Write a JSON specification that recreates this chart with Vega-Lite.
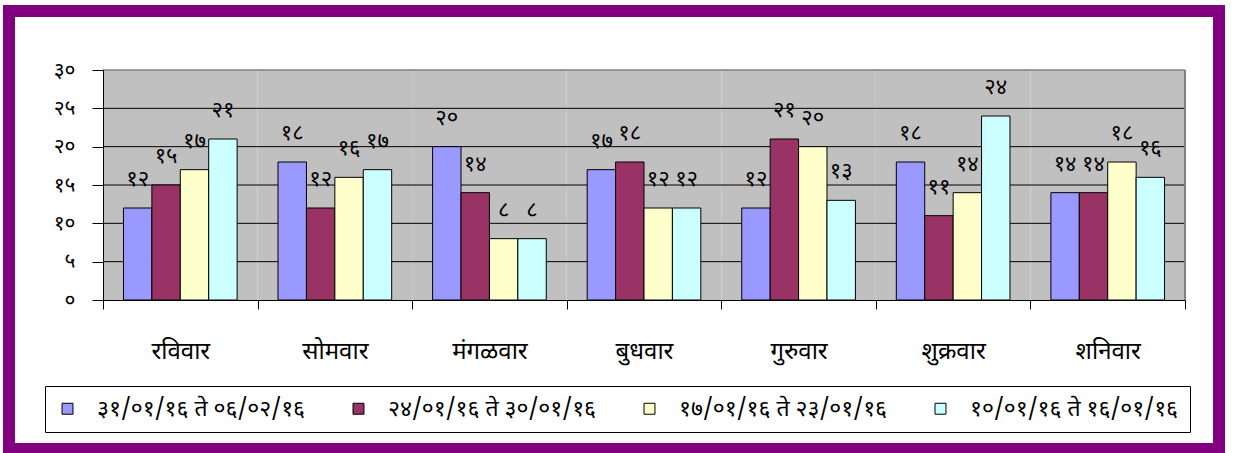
{
  "$schema": "https://vega.github.io/schema/vega-lite/v6.json",
  "width": 1210,
  "height": 438,
  "autosize": "none",
  "padding": {"left": 9, "top": 11, "right": 14, "bottom": 4},
  "background": "white",
  "config": {
    "font": "Noto Sans Devanagari",
    "view": {"fill": "white", "stroke": "#800080", "strokeWidth": 12}
  },
  "data": {
    "values": [
      {"day": "रविवार", "week": "३१/०१/१६ ते ०६/०२/१६", "value": 12, "label": "१२"},
      {"day": "रविवार", "week": "२४/०१/१६ ते ३०/०१/१६", "value": 15, "label": "१५"},
      {"day": "रविवार", "week": "१७/०१/१६ ते २३/०१/१६", "value": 17, "label": "१७"},
      {"day": "रविवार", "week": "१०/०१/१६ ते १६/०१/१६", "value": 21, "label": "२१"},
      {"day": "सोमवार", "week": "३१/०१/१६ ते ०६/०२/१६", "value": 18, "label": "१८"},
      {"day": "सोमवार", "week": "२४/०१/१६ ते ३०/०१/१६", "value": 12, "label": "१२"},
      {"day": "सोमवार", "week": "१७/०१/१६ ते २३/०१/१६", "value": 16, "label": "१६"},
      {"day": "सोमवार", "week": "१०/०१/१६ ते १६/०१/१६", "value": 17, "label": "१७"},
      {"day": "मंगळवार", "week": "३१/०१/१६ ते ०६/०२/१६", "value": 20, "label": "२०"},
      {"day": "मंगळवार", "week": "२४/०१/१६ ते ३०/०१/१६", "value": 14, "label": "१४"},
      {"day": "मंगळवार", "week": "१७/०१/१६ ते २३/०१/१६", "value": 8, "label": "८"},
      {"day": "मंगळवार", "week": "१०/०१/१६ ते १६/०१/१६", "value": 8, "label": "८"},
      {"day": "बुधवार", "week": "३१/०१/१६ ते ०६/०२/१६", "value": 17, "label": "१७"},
      {"day": "बुधवार", "week": "२४/०१/१६ ते ३०/०१/१६", "value": 18, "label": "१८"},
      {"day": "बुधवार", "week": "१७/०१/१६ ते २३/०१/१६", "value": 12, "label": "१२"},
      {"day": "बुधवार", "week": "१०/०१/१६ ते १६/०१/१६", "value": 12, "label": "१२"},
      {"day": "गुरुवार", "week": "३१/०१/१६ ते ०६/०२/१६", "value": 12, "label": "१२"},
      {"day": "गुरुवार", "week": "२४/०१/१६ ते ३०/०१/१६", "value": 21, "label": "२१"},
      {"day": "गुरुवार", "week": "१७/०१/१६ ते २३/०१/१६", "value": 20, "label": "२०"},
      {"day": "गुरुवार", "week": "१०/०१/१६ ते १६/०१/१६", "value": 13, "label": "१३"},
      {"day": "शुक्रवार", "week": "३१/०१/१६ ते ०६/०२/१६", "value": 18, "label": "१८"},
      {"day": "शुक्रवार", "week": "२४/०१/१६ ते ३०/०१/१६", "value": 11, "label": "११"},
      {"day": "शुक्रवार", "week": "१७/०१/१६ ते २३/०१/१६", "value": 14, "label": "१४"},
      {"day": "शुक्रवार", "week": "१०/०१/१६ ते १६/०१/१६", "value": 24, "label": "२४"},
      {"day": "शनिवार", "week": "३१/०१/१६ ते ०६/०२/१६", "value": 14, "label": "१४"},
      {"day": "शनिवार", "week": "२४/०१/१६ ते ३०/०१/१६", "value": 14, "label": "१४"},
      {"day": "शनिवार", "week": "१७/०१/१६ ते २३/०१/१६", "value": 18, "label": "१८"},
      {"day": "शनिवार", "week": "१०/०१/१६ ते १६/०१/१६", "value": 16, "label": "१६"}
    ]
  },
  "layer": [
    {
      "transform": [{"filter": {"field": "week", "equal": "३१/०१/१६ ते ०६/०२/१६"}}],
      "mark": {"type": "rect", "fill": "#C0C0C0", "stroke": null},
      "encoding": {
        "x": {"field": "day", "type": "nominal", "sort": null, "title": null,
              "scale": {"range": [94, 1176], "paddingInner": 0, "paddingOuter": 0}},
        "y": {"datum": 0, "type": "quantitative", "title": null,
              "scale": {"domain": [0, 30], "range": [289, 59], "nice": false}},
        "y2": {"datum": 30}
      }
    },
    {
      "data": {"values": [{}]},
      "layer": [
        {"mark": {"type": "rule", "color": "black", "strokeWidth": 1},
         "encoding": {"x": {"datum": "रविवार", "type": "nominal", "bandPosition": 0, "title": null},
                      "x2": {"datum": "शनिवार", "bandPosition": 1},
                      "y": {"datum": 5, "type": "quantitative", "title": null}}},
        {"mark": {"type": "rule", "color": "black", "strokeWidth": 1},
         "encoding": {"x": {"datum": "रविवार", "type": "nominal", "bandPosition": 0, "title": null},
                      "x2": {"datum": "शनिवार", "bandPosition": 1},
                      "y": {"datum": 10, "type": "quantitative", "title": null}}},
        {"mark": {"type": "rule", "color": "black", "strokeWidth": 1},
         "encoding": {"x": {"datum": "रविवार", "type": "nominal", "bandPosition": 0, "title": null},
                      "x2": {"datum": "शनिवार", "bandPosition": 1},
                      "y": {"datum": 15, "type": "quantitative", "title": null}}},
        {"mark": {"type": "rule", "color": "black", "strokeWidth": 1},
         "encoding": {"x": {"datum": "रविवार", "type": "nominal", "bandPosition": 0, "title": null},
                      "x2": {"datum": "शनिवार", "bandPosition": 1},
                      "y": {"datum": 20, "type": "quantitative", "title": null}}},
        {"mark": {"type": "rule", "color": "black", "strokeWidth": 1},
         "encoding": {"x": {"datum": "रविवार", "type": "nominal", "bandPosition": 0, "title": null},
                      "x2": {"datum": "शनिवार", "bandPosition": 1},
                      "y": {"datum": 25, "type": "quantitative", "title": null}}},
        {"mark": {"type": "rule", "color": "#808080", "strokeWidth": 1.5},
         "encoding": {"x": {"datum": "रविवार", "type": "nominal", "bandPosition": 0, "title": null},
                      "x2": {"datum": "शनिवार", "bandPosition": 1},
                      "y": {"datum": 30, "type": "quantitative", "title": null}}},
        {"mark": {"type": "rule", "color": "#808080", "strokeWidth": 2},
         "encoding": {"x": {"datum": "शनिवार", "type": "nominal", "bandPosition": 1, "title": null},
                      "y": {"datum": 0, "type": "quantitative", "title": null},
                      "y2": {"datum": 30}}}
      ]
    },
    {
      "mark": {"type": "bar", "stroke": "black", "strokeWidth": 1},
      "encoding": {
        "x": {"field": "day", "type": "nominal", "sort": null, "title": null,
              "scale": {"range": [94, 1176], "paddingInner": 0, "paddingOuter": 0},
              "axis": {"orient": "bottom", "offset": -149, "title": null, "labelAngle": 0,
                       "bandPosition": 0.5, "labelAlign": "center",
                       "domainColor": "black", "tickColor": "black", "tickBand": "extent",
                       "tickSize": 9, "labelFontSize": 24, "labelColor": "black",
                       "labelPadding": 42, "grid": false, "zindex": 1}},
        "xOffset": {"field": "week", "type": "nominal",
                    "sort": ["३१/०१/१६ ते ०६/०२/१६", "२४/०१/१६ ते ३०/०१/१६", "१७/०१/१६ ते २३/०१/१६", "१०/०१/१६ ते १६/०१/१६"],
                    "scale": {"paddingInner": 0, "paddingOuter": 0.72}},
        "y": {"field": "value", "type": "quantitative", "title": null,
              "scale": {"domain": [0, 30], "range": [289, 59], "nice": false},
              "axis": {"orient": "left", "offset": -94, "title": null,
                       "values": [0, 5, 10, 15, 20, 25, 30],
                       "labelExpr": "['०','५','१०','१५','२०','२५','३०'][datum.value/5]",
                       "domainColor": "black", "tickColor": "black", "tickSize": 11,
                       "labelFontSize": 21, "labelColor": "black", "labelPadding": 17,
                       "grid": false, "zindex": 1}},
        "color": {"field": "week", "type": "nominal",
                  "scale": {"domain": ["३१/०१/१६ ते ०६/०२/१६", "२४/०१/१६ ते ३०/०१/१६", "१७/०१/१६ ते २३/०१/१६", "१०/०१/१६ ते १६/०१/१६"],
                            "range": ["#9999FF", "#993366", "#FFFFCC", "#CCFFFF"]},
                  "legend": {"orient": "none", "legendX": 36, "legendY": 375, "title": null,
                             "direction": "horizontal", "columns": 4, "columnPadding": 41,
                             "fillColor": "white", "strokeColor": "black", "padding": 11,
                             "labelFontSize": 23, "labelColor": "black", "labelOffset": 18,
                             "symbolType": "square", "symbolSize": 120,
                             "symbolStrokeColor": "black", "symbolStrokeWidth": 1, "labelLimit": 400}}
      }
    },
    {
      "mark": {"type": "text", "dy": -29, "fontSize": 22, "color": "black", "baseline": "middle"},
      "encoding": {
        "x": {"field": "day", "type": "nominal", "sort": null, "title": null},
        "xOffset": {"field": "week", "type": "nominal",
                    "sort": ["३१/०१/१६ ते ०६/०२/१६", "२४/०१/१६ ते ३०/०१/१६", "१७/०१/१६ ते २३/०१/१६", "१०/०१/१६ ते १६/०१/१६"]},
        "y": {"field": "value", "type": "quantitative", "title": null},
        "text": {"field": "label"}
      }
    }
  ]
}
